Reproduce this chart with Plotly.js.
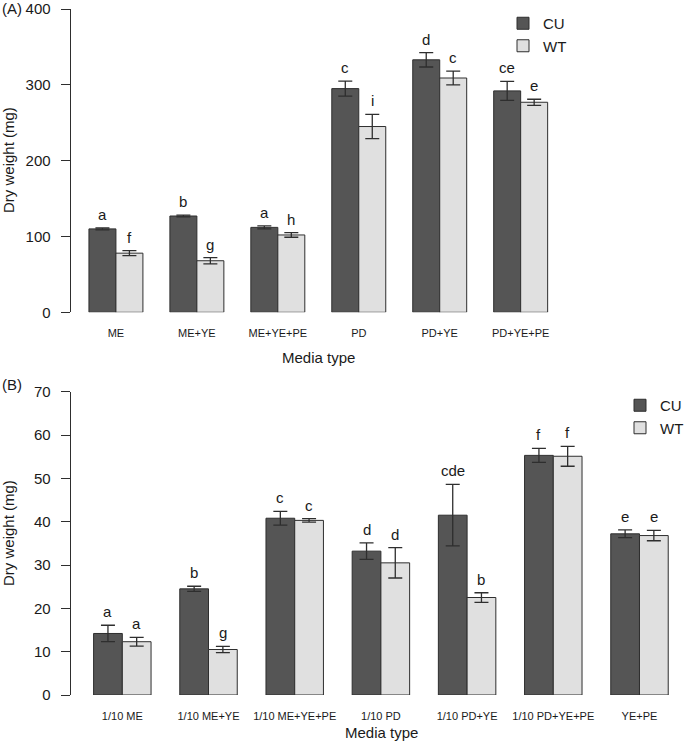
<!DOCTYPE html>
<html>
<head>
<meta charset="utf-8">
<script src="https://cdn.plot.ly/plotly-3.0.1.min.js"></script>
<style>html,body{margin:0;padding:0;background:#fff;}#chart{width:685px;height:749px;}</style>
</head>
<body>
<div id="chart"></div>
<script>
// ---- Panel A data ----
const catsA = ["ME", "ME+YE", "ME+YE+PE", "PD", "PD+YE", "PD+YE+PE"];
const cuA = [110, 127, 112, 295, 333, 292];
const cuErrA = [1.2, 1.2, 2, 10, 9.5, 12.5];
const cuLetA = ["a", "b", "a", "c", "d", "ce"];
const wtA = [78, 68, 102, 245, 309, 277];
const wtErrA = [3.3, 4.2, 3, 16, 9, 4];
const wtLetA = ["f", "g", "h", "i", "c", "e"];

// ---- Panel B data ----
const catsB = ["1/10 ME", "1/10 ME+YE", "1/10 ME+YE+PE", "1/10 PD", "1/10 PD+YE", "1/10 PD+YE+PE", "YE+PE"];
const cuB = [14.2, 24.5, 40.8, 33.2, 41.5, 55.3, 37.2];
const cuErrB = [1.9, 0.6, 1.6, 1.9, 7.1, 1.6, 0.9];
const cuLetB = ["a", "b", "c", "d", "cde", "f", "e"];
const wtB = [12.3, 10.5, 40.3, 30.5, 22.5, 55.1, 36.8];
const wtErrB = [1.0, 0.7, 0.4, 3.5, 1.1, 2.3, 1.2];
const wtLetB = ["a", "g", "c", "d", "b", "f", "e"];

const seriesNames = ["CU", "WT"];
const yTicksA = [0, 100, 200, 300, 400];
const yTicksB = [0, 10, 20, 30, 40, 50, 60, 70];

// ---- styling ----
const W = 685, H = 749;
const FONT = "Liberation Sans, Arial, Helvetica, sans-serif";
const TXT = "#1a1a1a";
const DARK = "#555555", LIGHT = "#e0e0e0", EDGE = "#2e2e2e";
const px = v => v / W;
const py = v => 1 - v / H;

function barTrace(name, cats, vals, errs, color, xa, ya, leg) {
  return {
    type: "bar", name: name, x: cats, y: vals,
    xaxis: xa, yaxis: ya, legend: leg, showlegend: true,
    marker: {color: color, line: {color: EDGE, width: 1}},
    error_y: {type: "data", array: errs, visible: true, color: EDGE, thickness: 1.3, width: 7},
    hoverinfo: "skip"
  };
}

const traces = [
  barTrace(seriesNames[0], catsA, cuA, cuErrA, DARK, "x", "y", "legend"),
  barTrace(seriesNames[1], catsA, wtA, wtErrA, LIGHT, "x", "y", "legend"),
  barTrace(seriesNames[0], catsB, cuB, cuErrB, DARK, "x2", "y2", "legend2"),
  barTrace(seriesNames[1], catsB, wtB, wtErrB, LIGHT, "x2", "y2", "legend2")
];

const annotations = [];
// significance letters above each bar's error bar; side -1 = CU bar, +1 = WT bar
function addLetters(cats, vals, errs, lets, xref, yref, side, pitch) {
  cats.forEach((c, i) => {
    annotations.push({
      x: c, y: vals[i] + errs[i], xref: xref, yref: yref,
      text: lets[i], showarrow: false, yanchor: "bottom", xanchor: "center",
      xshift: side * pitch / 6, yshift: 3,
      font: {family: FONT, size: 15, color: TXT}
    });
  });
}
const pitchA = (566 - 70.6) / 6.12;
const pitchB = (691 - 70.6) / 7.2;
addLetters(catsA, cuA, cuErrA, cuLetA, "x", "y", -1, pitchA);
addLetters(catsA, wtA, wtErrA, wtLetA, "x", "y", 1, pitchA);
addLetters(catsB, cuB, cuErrB, cuLetB, "x2", "y2", -1, pitchB);
addLetters(catsB, wtB, wtErrB, wtLetB, "x2", "y2", 1, pitchB);

function paperText(text, x, y, opts) {
  annotations.push(Object.assign({
    xref: "paper", yref: "paper", x: x, y: y, text: text, showarrow: false,
    xanchor: "center", yanchor: "middle",
    font: {family: FONT, size: 15, color: TXT}
  }, opts || {}));
}
paperText("(A)", px(0), py(8), {xanchor: "left"});
paperText("(B)", px(0), py(385), {xanchor: "left"});
paperText("Dry weight (mg)", px(8), py(160), {textangle: -90});
paperText("Dry weight (mg)", px(8), py(533), {textangle: -90});
paperText("Media type", px(318), py(358));
paperText("Media type", px(381), py(732));

const xCommon = {
  type: "category", showline: false, showgrid: false, zeroline: false,
  ticks: "", ticklabelstandoff: 13,
  tickfont: {family: FONT, size: 11, color: TXT}, fixedrange: true
};
const yCommon = {
  showline: true, linecolor: EDGE, linewidth: 1, showgrid: false, zeroline: false,
  ticks: "outside", ticklen: 9, tickcolor: EDGE, tickwidth: 1, ticklabelstandoff: 7,
  tickfont: {family: FONT, size: 15, color: TXT}, tickmode: "array", fixedrange: true
};

const layout = {
  width: W, height: H,
  margin: {l: 0, r: 0, t: 0, b: 0, autoexpand: false},
  paper_bgcolor: "#fff", plot_bgcolor: "rgba(0,0,0,0)",
  barmode: "group", bargap: 1 / 3, bargroupgap: 0,
  font: {family: FONT, color: TXT},
  xaxis: Object.assign({}, xCommon, {domain: [px(70.6), px(566)], anchor: "y", range: [-0.56, 5.56]}),
  yaxis: Object.assign({}, yCommon, {domain: [py(312.3), py(9)], anchor: "x", range: [0, 400], tickvals: yTicksA}),
  xaxis2: Object.assign({}, xCommon, {domain: [px(70.6), 1], anchor: "y2", range: [-0.6, 6.528]}),
  yaxis2: Object.assign({}, yCommon, {domain: [py(695), py(391.7)], anchor: "x2", range: [0, 70], tickvals: yTicksB}),
  legend: {x: px(503), y: py(7), xanchor: "left", yanchor: "top", bgcolor: "rgba(0,0,0,0)",
           font: {family: FONT, size: 15, color: TXT}, traceorder: "normal"},
  legend2: {x: px(620), y: py(389), xanchor: "left", yanchor: "top", bgcolor: "rgba(0,0,0,0)",
            font: {family: FONT, size: 15, color: TXT}, traceorder: "normal"},
  annotations: annotations,
  showlegend: true
};

Plotly.newPlot("chart", traces, layout, {staticPlot: true, displayModeBar: false});
</script>
</body>
</html>
